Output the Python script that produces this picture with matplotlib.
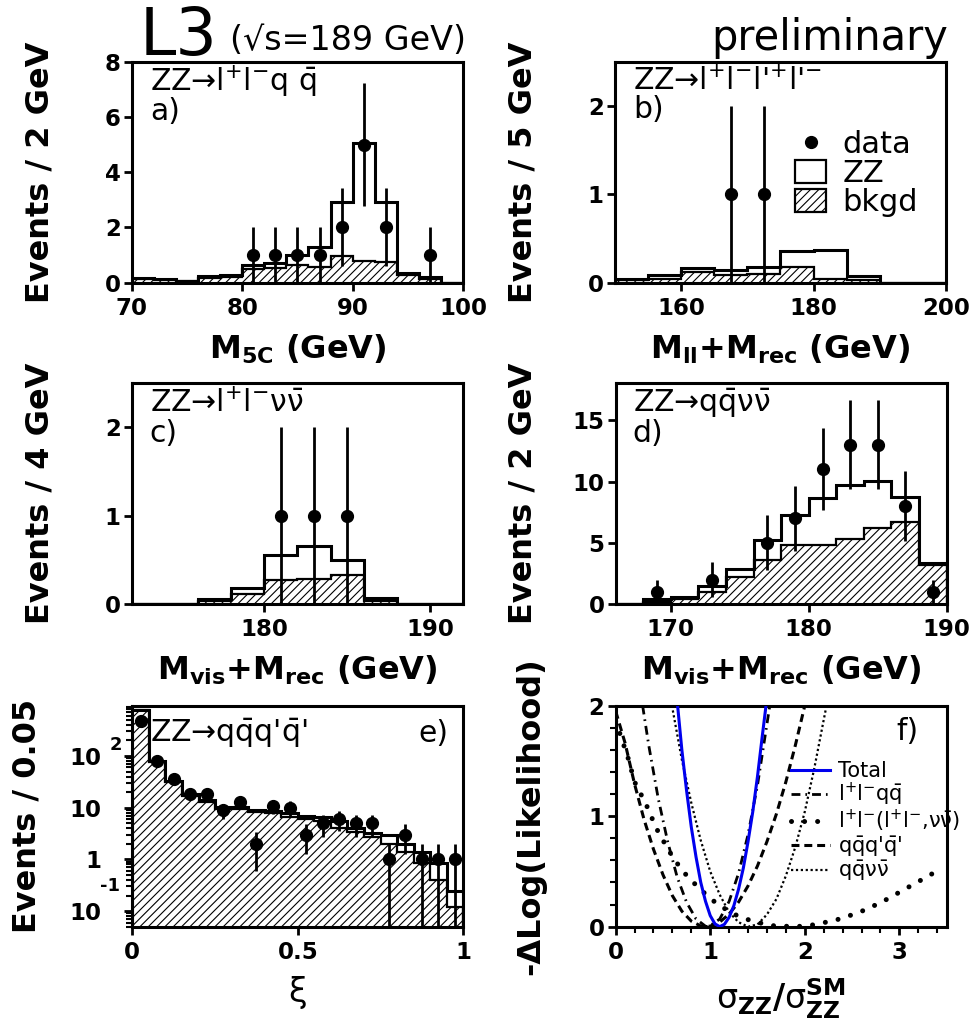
import matplotlib
matplotlib.use('Agg')
import matplotlib.pyplot as plt
from matplotlib.lines import Line2D
from matplotlib.patches import Patch
from matplotlib.ticker import MultipleLocator

plt.rcParams['font.family'] = ['DejaVu Sans']
plt.rcParams['mathtext.fontset'] = 'dejavusans'
plt.rcParams['mathtext.default'] = 'regular'
plt.rcParams['hatch.linewidth'] = 0.8

# ---- a) ZZ -> l+l- q qbar, M_5C
a_edges = [70, 72, 74, 76, 78, 80, 82, 84, 86, 88, 90, 92, 94, 96, 98, 100]
a_total = [0.16, 0.12, 0.07, 0.24, 0.27, 0.64, 0.70, 1.0, 1.28, 2.92, 5.04, 2.92, 0.34, 0.22, 0.0]
a_bkg = [0.15, 0.10, 0.05, 0.18, 0.22, 0.48, 0.52, 0.64, 0.58, 0.97, 0.78, 0.76, 0.27, 0.14, 0.0]
a_x = [81, 83, 85, 87, 89, 91, 93, 97]
a_n = [1, 1, 1, 1, 2, 5, 2, 1]
a_err = [1, 1, 1, 1, 1.41, 2.24, 1.41, 1]

# ---- b) ZZ -> l+l-l'+l'-, M_ll + M_rec
b_edges = [150, 155, 160, 165, 170, 175, 180, 185, 190, 195, 200]
b_total = [0.045, 0.083, 0.17, 0.14, 0.18, 0.36, 0.37, 0.075, 0.0, 0.0]
b_bkg = [0.03, 0.045, 0.12, 0.083, 0.10, 0.18, 0.045, 0.03, 0.0, 0.0]
b_x = [167.5, 172.5]
b_n = [1, 1]
b_err = [1, 1]

# ---- c) ZZ -> l+l- nu nubar, M_vis + M_rec
c_edges = [172, 174, 176, 178, 180, 182, 184, 186, 188, 190, 192]
c_total = [0.0, 0.0, 0.064, 0.19, 0.56, 0.66, 0.50, 0.075, 0.0, 0.0]
c_bkg = [0.0, 0.0, 0.04, 0.12, 0.275, 0.29, 0.33, 0.04, 0.0, 0.0]
c_x = [181, 183, 185]
c_n = [1, 1, 1]
c_err = [1, 1, 1]

# ---- d) ZZ -> q qbar nu nubar, M_vis + M_rec
d_edges = [166, 168, 170, 172, 174, 176, 178, 180, 182, 184, 186, 188, 190]
d_total = [0.05, 0.41, 0.63, 1.5, 2.9, 5.2, 7.3, 8.66, 9.7, 10.05, 8.77, 3.4]
d_bkg = [0.02, 0.2, 0.45, 1.04, 2.2, 3.6, 4.8, 4.8, 5.3, 6.2, 6.7, 3.2]
d_x = [169, 173, 177, 179, 181, 183, 185, 187, 189]
d_n = [1, 2, 5, 7, 11, 13, 13, 8, 1]
d_err = [1, 1.41, 2.24, 2.65, 3.32, 3.61, 3.61, 2.83, 1]

# ---- e) ZZ -> q qbar q' qbar', xi
e_edges = [0.0, 0.05, 0.1, 0.15, 0.2, 0.25, 0.3, 0.35, 0.4, 0.45, 0.5,
           0.55, 0.6, 0.65, 0.7, 0.75, 0.8, 0.85, 0.9, 0.95, 1.0]
e_total = [780, 80, 33, 18, 14, 10.5, 10.2, 9.2, 8.6, 7.8, 6.8, 6.6, 5.4, 4.0,
           3.2, 3.0, 2.0, 1.4, 0.84, 0.24]
e_bkg = [770, 76, 31, 16.5, 13, 9.6, 9.3, 8.4, 7.8, 6.5, 6.0, 5.6, 4.0, 3.4,
         2.75, 2.0, 1.4, 0.84, 0.40, 0.12]
e_x = [0.025, 0.075, 0.125, 0.175, 0.225, 0.275, 0.325, 0.375, 0.425, 0.475,
       0.525, 0.575, 0.625, 0.675, 0.725, 0.775, 0.825, 0.875, 0.925, 0.975]
e_n = [470, 80, 36, 18, 18, 9, 13, 2, 11, 10, 3, 5, 6, 5, 5, 1, 3, 1, 1, 1]
e_err = [21.7, 8.94, 6, 4.24, 4.24, 3, 3.61, 1.41, 3.32, 3.16, 1.73, 2.24, 2.45,
         2.24, 2.24, 1, 1.73, 1, 1, 1]

# ---- f) -Delta log likelihood curves
tot_x = [0.655, 0.70, 0.75, 0.80, 0.85, 0.90, 0.95, 1.00, 1.05, 1.10, 1.15, 1.20,
         1.25, 1.30, 1.35, 1.40, 1.45, 1.50, 1.55, 1.59]
tot_y = [2.0, 1.60, 1.23, 0.90, 0.63, 0.40, 0.23, 0.10, 0.025, 0.0, 0.021, 0.085,
         0.19, 0.34, 0.53, 0.77, 1.04, 1.36, 1.72, 2.0]
llqq_x = [0.285, 0.35, 0.45, 0.55, 0.65, 0.75, 0.85, 0.95, 0.98, 1.1, 1.2, 1.3, 1.4, 1.5, 1.63]
llqq_y = [2.0, 1.64, 1.16, 0.77, 0.45, 0.22, 0.07, 0.004, 0.0, 0.068, 0.229, 0.484, 0.834, 1.28, 2.0]
ll_x = [0.0, 0.13, 0.2, 0.32, 0.43, 0.56, 0.7, 0.89, 1.08, 1.26, 1.39, 1.63, 1.9,
        2.05, 2.32, 2.57, 2.81, 3.06, 3.31, 3.45]
ll_y = [1.86, 1.53, 1.31, 1.11, 0.89, 0.69, 0.51, 0.34, 0.20, 0.11, 0.066, 0.01, 0.0,
        0.01, 0.057, 0.127, 0.22, 0.34, 0.46, 0.53]
qqqq_x = [0.0, 0.1, 0.2, 0.3, 0.4, 0.5, 0.6, 0.7, 0.8, 0.9, 0.95, 1.0, 1.1, 1.2,
          1.3, 1.4, 1.5, 1.6, 1.7, 1.8, 1.9, 2.0]
qqqq_y = [1.95, 1.66, 1.29, 0.97, 0.70, 0.47, 0.28, 0.14, 0.05, 0.006, 0.0, 0.005,
          0.041, 0.114, 0.223, 0.369, 0.55, 0.77, 1.02, 1.31, 1.64, 2.0]
qqvv_x = [0.595, 0.7, 0.8, 0.9, 1.0, 1.1, 1.2, 1.3, 1.4, 1.5, 1.6, 1.7, 1.8, 1.9,
          2.0, 2.1, 2.2, 2.23]
qqvv_y = [2.0, 1.51, 1.12, 0.78, 0.50, 0.29, 0.13, 0.04, 0.0, 0.02, 0.11, 0.25,
          0.46, 0.72, 1.04, 1.43, 1.87, 2.0]

fig = plt.figure(figsize=(9.76, 10.21), dpi=100)
W, H = 0.3391, 0.2165
ax_a = fig.add_axes([0.1352, 0.7231, W, H])
ax_b = fig.add_axes([0.6301, 0.7231, W, H])
ax_c = fig.add_axes([0.1352, 0.4081, W, H])
ax_d = fig.add_axes([0.6308, 0.4081, W, H])
ax_e = fig.add_axes([0.1356, 0.0924, W, H])
ax_f = fig.add_axes([0.6308, 0.0924, W, H])


def style(ax):
    for s in ax.spines.values():
        s.set_linewidth(2.2)
    ax.tick_params(which='major', direction='out', length=6, width=2,
                   labelsize=16.5, top=False, right=False)
    ax.tick_params(axis='x', pad=4)
    ax.tick_params(axis='y', pad=2)
    ax.tick_params(which='minor', direction='out', length=4, width=1.5)


def bold_ticks(ax):
    for lab in ax.get_xticklabels() + ax.get_yticklabels():
        lab.set_fontweight('bold')


def histo(ax, edges, total, bkg, x, n, err, base=0):
    ax.stairs(bkg, edges, baseline=base, fill=True, facecolor='white',
              edgecolor='black', hatch='////', linewidth=1.6)
    ax.stairs(total, edges, baseline=base, color='black', linewidth=2.2)
    ax.errorbar(x, n, yerr=err, fmt='o', color='black', ms=8.5,
                elinewidth=2, capsize=0, zorder=5)


# a
histo(ax_a, a_edges, a_total, a_bkg, a_x, a_n, a_err)
ax_a.set_xlim(70, 100)
ax_a.set_ylim(0, 8)
ax_a.set_xticks([70, 80, 90, 100])
ax_a.set_yticks([0, 2, 4, 6, 8])
ax_a.set_xlabel('M$_{5C}$ (GeV)', fontsize=23, fontweight='bold')
ax_a.set_ylabel('Events / 2 GeV', fontsize=23, fontweight='bold')
ax_a.text(0.054, 0.869, r'ZZ→l$^{+}$l$^{-}$q $\bar{q}$', transform=ax_a.transAxes, fontsize=21.5)
ax_a.text(0.054, 0.736, 'a)', transform=ax_a.transAxes, fontsize=21.5)

# b
histo(ax_b, b_edges, b_total, b_bkg, b_x, b_n, b_err)
ax_b.set_xlim(150, 200)
ax_b.set_ylim(0, 2.5)
ax_b.set_xticks([160, 180, 200])
ax_b.set_yticks([0, 1, 2])
ax_b.set_xlabel('M$_{ll}$+M$_{rec}$ (GeV)', fontsize=23, fontweight='bold')
ax_b.set_ylabel('Events / 5 GeV', fontsize=23, fontweight='bold')
ax_b.text(0.054, 0.872, r"ZZ→l$^{+}$l$^{-}$l'$^{+}$l'$^{-}$", transform=ax_b.transAxes, fontsize=21.5)
ax_b.text(0.054, 0.745, 'b)', transform=ax_b.transAxes, fontsize=21.5)
leg_h = [Line2D([], [], marker='o', ls='none', color='black', ms=8.5),
         Patch(facecolor='white', edgecolor='black', linewidth=1.6),
         Patch(facecolor='white', edgecolor='black', hatch='////', linewidth=1.6)]
ax_b.legend(leg_h, ['data', 'ZZ', 'bkgd'], loc='upper left',
            bbox_to_anchor=(0.545, 0.69), frameon=False, fontsize=22,
            handlelength=1.0, handleheight=0.75, handletextpad=0.55,
            labelspacing=0.0, borderpad=0.0, borderaxespad=0.0)

# c
histo(ax_c, c_edges, c_total, c_bkg, c_x, c_n, c_err)
ax_c.set_xlim(172, 192)
ax_c.set_ylim(0, 2.5)
ax_c.set_xticks([180, 190])
ax_c.set_yticks([0, 1, 2])
ax_c.set_xlabel('M$_{vis}$+M$_{rec}$ (GeV)', fontsize=23, fontweight='bold')
ax_c.set_ylabel('Events / 4 GeV', fontsize=23, fontweight='bold')
ax_c.text(0.054, 0.871, r'ZZ→l$^{+}$l$^{-}$ν$\bar{ν}$', transform=ax_c.transAxes, fontsize=21.5)
ax_c.text(0.054, 0.736, 'c)', transform=ax_c.transAxes, fontsize=21.5)

# d
histo(ax_d, d_edges, d_total, d_bkg, d_x, d_n, d_err)
ax_d.set_xlim(166, 190)
ax_d.set_ylim(0, 18)
ax_d.set_xticks([170, 180, 190])
ax_d.set_yticks([0, 5, 10, 15])
ax_d.set_xlabel('M$_{vis}$+M$_{rec}$ (GeV)', fontsize=23, fontweight='bold')
ax_d.set_ylabel('Events / 2 GeV', fontsize=23, fontweight='bold')
ax_d.text(0.052, 0.871, r'ZZ→q$\bar{q}$ν$\bar{ν}$', transform=ax_d.transAxes, fontsize=21.5)
ax_d.text(0.052, 0.736, 'd)', transform=ax_d.transAxes, fontsize=21.5)

# e
ax_e.set_yscale('log', nonpositive='clip')
histo(ax_e, e_edges, e_total, e_bkg, e_x, e_n, e_err, base=1e-3)
ax_e.set_xlim(0, 1)
ax_e.set_ylim(0.05, 940)
ax_e.set_xticks([0, 0.5, 1])
ax_e.set_xticklabels(['0', '0.5', '1'])
ax_e.set_yticks([0.1, 1, 10, 100])
ax_e.set_yticklabels(['10', '1', '10', '10'])
ax_e.text(-0.068, 165, '2', transform=ax_e.get_yaxis_transform(), fontsize=13,
          fontweight='bold', ha='left', va='center')
ax_e.text(-0.098, 0.30, '-1', transform=ax_e.get_yaxis_transform(), fontsize=13,
          fontweight='bold', ha='left', va='center')
ax_e.set_xlabel('ξ', fontsize=24)
ax_e.set_ylabel('Events / 0.05', fontsize=23, fontweight='bold')
ax_e.text(0.053, 0.837, r"ZZ→q$\bar{q}$q'$\bar{q}$'", transform=ax_e.transAxes, fontsize=21.5)
ax_e.text(0.955, 0.837, 'e)', transform=ax_e.transAxes, fontsize=21.5, ha='right')

# f
ax_f.plot(tot_x, tot_y, color='#0000ee', lw=2.2, label='Total', zorder=5)
ax_f.plot(llqq_x, llqq_y, color='black', lw=2.0, ls=(0, (3.2, 1.8, 0.6, 1.8)),
          label=r'l$^{+}$l$^{-}$q$\bar{q}$')
ax_f.plot(ll_x, ll_y, color='black', lw=3.6, ls=(0, (0.01, 2.6)),
          dash_capstyle='round', label=r'l$^{+}$l$^{-}$(l$^{+}$l$^{-}$,ν$\bar{ν}$)')
ax_f.plot(qqqq_x, qqqq_y, color='black', lw=2.2, ls=(0, (2.6, 1.6)),
          label=r"q$\bar{q}$q'$\bar{q}$'")
ax_f.plot(qqvv_x, qqvv_y, color='black', lw=1.6, ls=(0, (1, 1.2)),
          label=r'q$\bar{q}$ν$\bar{ν}$')
ax_f.set_xlim(0, 3.5)
ax_f.set_ylim(0, 2)
ax_f.set_xticks([0, 1, 2, 3])
ax_f.set_yticks([0, 1, 2])
ax_f.xaxis.set_minor_locator(MultipleLocator(0.2))
ax_f.yaxis.set_minor_locator(MultipleLocator(0.2))
ax_f.set_xlabel(r'$σ_{\mathbf{ZZ}}\mathbf{/}σ_{\mathbf{ZZ}}^{\mathbf{SM}}$', fontsize=24)
ax_f.set_ylabel('-ΔLog(Likelihood)', fontsize=23, fontweight='bold')
ax_f.text(0.916, 0.845, 'f)', transform=ax_f.transAxes, fontsize=21.5, ha='right')
ax_f.legend(loc='upper left', bbox_to_anchor=(0.53, 0.75), frameon=False,
            fontsize=15, handlelength=1.85, handletextpad=0.4,
            labelspacing=0.0, borderpad=0.0, borderaxespad=0.0)

for ax in [ax_a, ax_b, ax_c, ax_d, ax_e, ax_f]:
    style(ax)
    bold_ticks(ax)
    ax.yaxis.set_label_coords(-0.232, 0.5)
    ax.xaxis.set_label_coords(0.5, -0.225)
ax_e.yaxis.set_label_coords(-0.272, 0.5)
ax_e.tick_params(axis='y', which='major', pad=16)
ax_f.yaxis.set_label_coords(-0.21, 0.5)

fig.text(140 / 976, 1 - 55 / 1021, 'L3', fontsize=47, va='baseline')
fig.text(230 / 976, 1 - 50 / 1021, '(√s=189 GeV)', fontsize=24, va='baseline')
fig.text(948 / 976, 1 - 50 / 1021, 'preliminary', fontsize=30, va='baseline', ha='right')

fig.savefig('out.png', dpi=100)
